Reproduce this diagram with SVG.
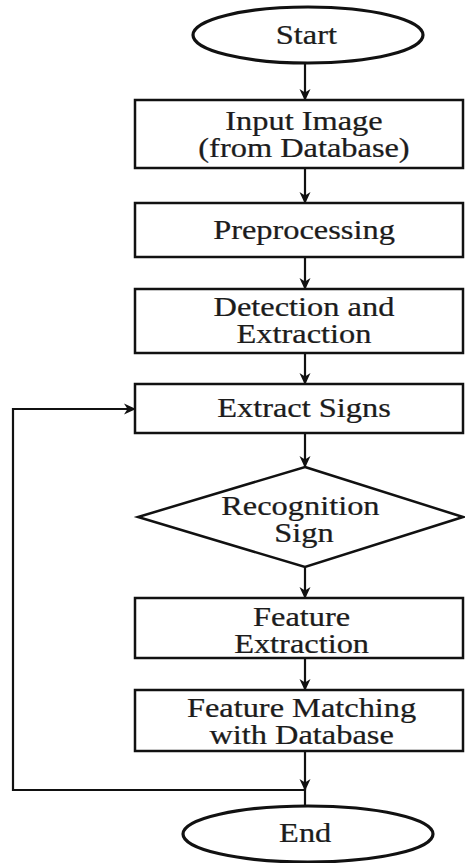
<svg xmlns="http://www.w3.org/2000/svg" width="465" height="863" viewBox="0 0 465 863">
<style>
.shape{fill:#fff;stroke:#111;stroke-width:2.5}
.term{fill:#fff;stroke:#111;stroke-width:3.2}
.conn{fill:none;stroke:#111;stroke-width:2.2}
text{font-family:"Liberation Serif","Times New Roman",serif;font-size:27px;fill:#1c1c1c;stroke:#1c1c1c;stroke-width:0.25;text-anchor:middle}
</style>
<defs>
<marker id="ah" viewBox="0 0 12 12" refX="11" refY="6" markerWidth="12" markerHeight="12" markerUnits="userSpaceOnUse" orient="auto">
<path d="M0,0.5 L12,6 L0,11.5 L3.5,6 Z" fill="#111"/>
</marker>
</defs>
<rect width="465" height="863" fill="#fff"/>
<g id="connectors">
<line class="conn" x1="305" y1="63" x2="305" y2="100" marker-end="url(#ah)"/>
<line class="conn" x1="305" y1="168" x2="305" y2="203" marker-end="url(#ah)"/>
<line class="conn" x1="305" y1="257" x2="305" y2="289" marker-end="url(#ah)"/>
<line class="conn" x1="305" y1="353" x2="305" y2="384" marker-end="url(#ah)"/>
<line class="conn" x1="305" y1="433" x2="305" y2="467" marker-end="url(#ah)"/>
<line class="conn" x1="305" y1="567" x2="305" y2="598" marker-end="url(#ah)"/>
<line class="conn" x1="305" y1="658" x2="305" y2="690" marker-end="url(#ah)"/>
<line class="conn" x1="305" y1="751" x2="305" y2="790" marker-end="url(#ah)"/>
<line class="conn" x1="305" y1="788" x2="305" y2="806"/>
<polyline class="conn" points="305,790 13,790 13,409 135,409" marker-end="url(#ah)"/>
</g>
<g id="start"><ellipse class="term" cx="308" cy="35" rx="115" ry="28"/></g>
<g id="input"><rect class="shape" x="135" y="100" width="328" height="68"/></g>
<g id="preprocessing"><rect class="shape" x="135" y="203" width="328" height="54"/></g>
<g id="detection"><rect class="shape" x="135" y="289" width="328" height="64"/></g>
<g id="extract-signs"><rect class="shape" x="135" y="384" width="328" height="49"/></g>
<g id="recognition"><polygon class="shape" points="305,467 463,517 305,567 138,517"/></g>
<g id="feature-extraction"><rect class="shape" x="135" y="598" width="328" height="60"/></g>
<g id="feature-matching"><rect class="shape" x="135" y="690" width="328" height="61"/></g>
<g id="end"><ellipse class="term" cx="308" cy="834" rx="125" ry="28"/></g>
<g id="labels" transform="matrix(1.2 0 0 1 -60.8 0)">
<text x="306" y="44">Start</text>
<text x="304" y="130">Input Image</text>
<text x="304" y="157">(from Database)</text>
<text x="304" y="239">Preprocessing</text>
<text x="304" y="316">Detection and</text>
<text x="304" y="343">Extraction</text>
<text x="304" y="417">Extract Signs</text>
<text x="301" y="515">Recognition</text>
<text x="304" y="542">Sign</text>
<text x="302" y="626">Feature</text>
<text x="302" y="653">Extraction</text>
<text x="302" y="717">Feature Matching</text>
<text x="302" y="744">with Database</text>
<text x="305" y="842">End</text>
</g>
</svg>
